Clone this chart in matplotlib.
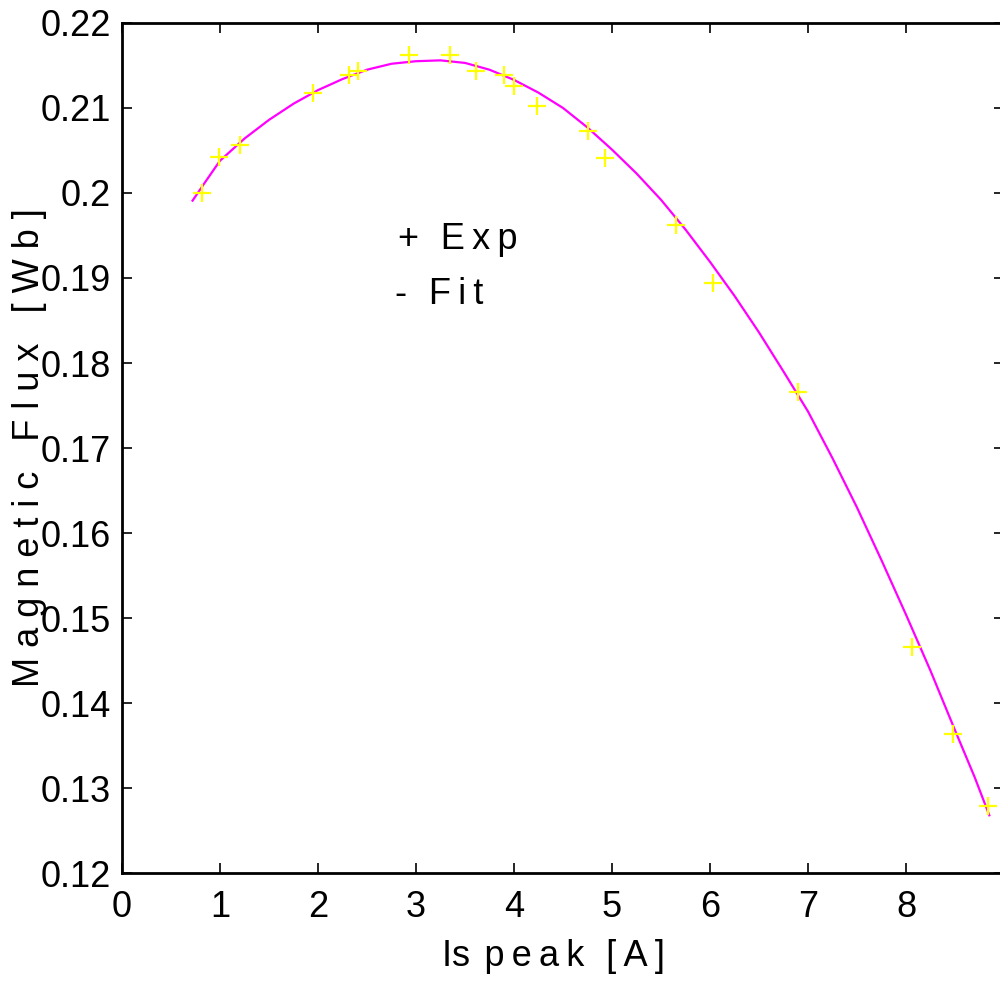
#!/usr/bin/env python3

# Magnetic flux vs. peak secondary current, measured points and fit

import matplotlib
matplotlib.use("Agg")
import matplotlib.pyplot as plt

is_peak = [0.82, 0.99, 1.20, 1.95, 2.32, 2.41, 2.93, 3.35, 3.61, 3.90, 4.00,
           4.23, 4.76, 4.93, 5.65, 6.03, 6.90, 8.06, 8.48, 8.84]
flux_exp = [0.2000, 0.2042, 0.2056, 0.2118, 0.2139, 0.2144, 0.2162, 0.2162,
            0.2144, 0.2139, 0.2126, 0.2102, 0.2073, 0.2041, 0.1962, 0.1894,
            0.1766, 0.1466, 0.1364, 0.1279]

# fitted curve
is_fit = [0.72, 0.85, 1.0, 1.25, 1.5, 1.75, 2.0, 2.25, 2.5, 2.75, 3.0, 3.25,
          3.5, 3.75, 4.0, 4.25, 4.5, 4.75, 5.0, 5.25, 5.5, 5.75, 6.0, 6.25,
          6.5, 6.75, 7.0, 7.25, 7.5, 7.75, 8.0, 8.25, 8.5, 8.7, 8.85]
flux_fit = [0.1991, 0.2013, 0.2038, 0.2064, 0.2086, 0.2105, 0.2121, 0.2134,
            0.2145, 0.2152, 0.2155, 0.2156, 0.2153, 0.2145, 0.2133, 0.2118,
            0.2100, 0.2077, 0.2051, 0.2023, 0.1992, 0.1957, 0.1919, 0.1879,
            0.1836, 0.1790, 0.1743, 0.1688, 0.1630, 0.1568, 0.1504, 0.1438,
            0.1368, 0.1313, 0.1268]

xticks = [0, 1, 2, 3, 4, 5, 6, 7, 8]
yticks = [0.12, 0.13, 0.14, 0.15, 0.16, 0.17, 0.18, 0.19, 0.2, 0.21, 0.22]
ytick_labels = ["0.12", "0.13", "0.14", "0.15", "0.16", "0.17", "0.18",
                "0.19", "0.2", "0.21", "0.22"]

plt.rcParams["font.family"] = ["Liberation Sans", "DejaVu Sans"]
FS = 26


def spaced(s, gap):
    # mimic the wide letter spacing of the original export
    return gap.join(s).replace(gap + " " + gap, gap * 3)


THIN = "\u2009"

fig = plt.figure(figsize=(10, 9.81), dpi=100)
ax = fig.add_axes([0.122, 0.110, 0.882, 0.8666])

ax.plot(is_fit, flux_fit, color="#ff00ff", lw=1.6, zorder=2)
ax.plot(is_peak, flux_exp, ls="none", marker="+", ms=12.5, mew=1.6,
        color="#ffff00", zorder=3)

ax.set_xlim(0, 9)
ax.set_ylim(0.12, 0.22)
ax.set_xticks(xticks)
ax.set_yticks(yticks)
ax.set_yticklabels(ytick_labels)

ax.tick_params(direction="in", top=True, right=True, length=7, width=1.2,
               labelsize=FS)
ax.tick_params(axis="x", pad=12)
ax.tick_params(axis="y", pad=8)
for s in ax.spines.values():
    s.set_linewidth(2)

ax.text(2.82, 0.1945, spaced("+ Exp", THIN), fontsize=FS, ha="left",
        va="center")
ax.text(2.79, 0.1880, spaced("- Fit", THIN), fontsize=FS, ha="left",
        va="center")

fig.text(0.554, 0.0245, "Is" + THIN * 2 + spaced("peak [A]", THIN),
         fontsize=FS, ha="center", va="center")
fig.text(0.030, 1 - 448 / 981, spaced("Magnetic Flux [Wb]", " "),
         fontsize=FS, rotation=90, ha="center", va="center")

fig.savefig("out.png", dpi=100)
